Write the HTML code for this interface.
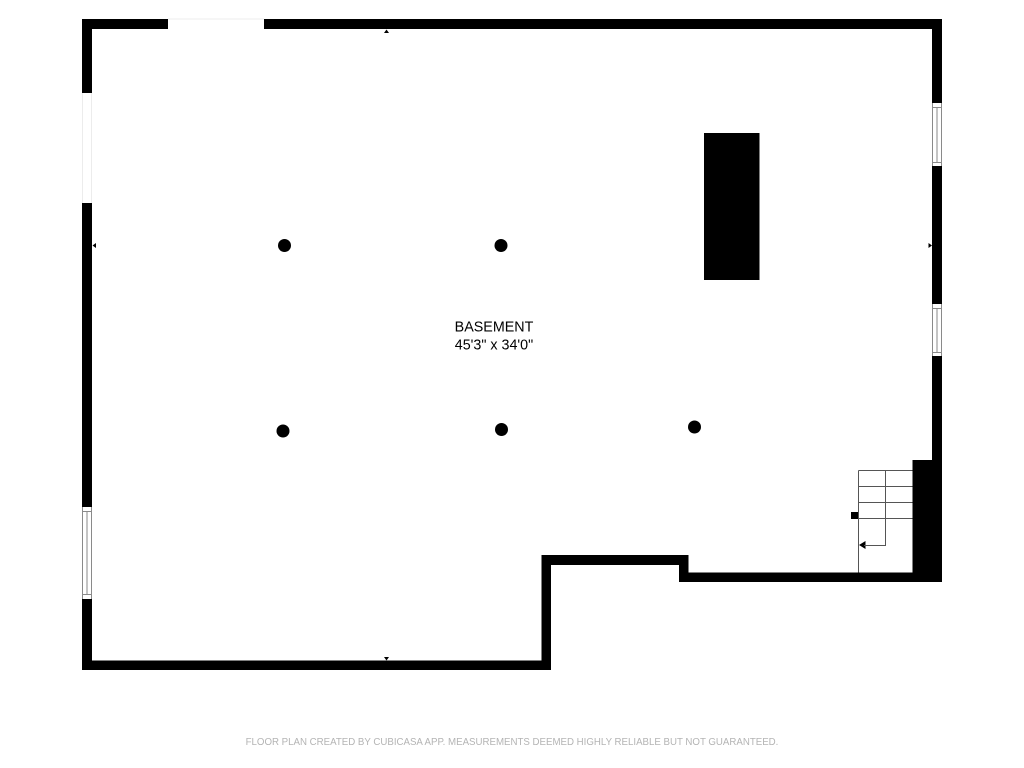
<!DOCTYPE html>
<html>
<head>
<meta charset="utf-8">
<title>Basement floor plan</title>
<style>
html,body{margin:0;padding:0;background:#fff;}
svg{display:block;}
text{font-family:"Liberation Sans",sans-serif;}
</style>
</head>
<body>
<svg width="1024" height="768" viewBox="0 0 1024 768" xmlns="http://www.w3.org/2000/svg">
<rect width="1024" height="768" fill="#fff"/>
<!-- walls -->
<g fill="#000">
<rect x="82" y="19" width="86" height="10"/>
<rect x="264" y="19" width="678" height="10"/>
<rect x="82" y="19" width="10" height="74"/>
<rect x="82" y="203" width="10" height="304"/>
<rect x="82" y="599" width="10" height="71"/>
<rect x="82" y="660.5" width="469" height="9.5"/>
<rect x="541.5" y="555" width="9.5" height="115"/>
<rect x="541.5" y="555" width="147" height="10"/>
<rect x="679" y="555" width="9.5" height="27"/>
<rect x="679" y="572.5" width="263" height="9.5"/>
<rect x="932" y="19" width="10" height="84"/>
<rect x="932" y="166" width="10" height="138"/>
<rect x="932" y="356" width="10" height="226"/>
<rect x="912.5" y="460" width="29.5" height="122"/>
<rect x="704" y="133" width="55.5" height="147"/>
<rect x="851" y="512" width="7.5" height="7"/>
<circle cx="284.5" cy="245.5" r="6.5"/>
<circle cx="501" cy="245.5" r="6.5"/>
<circle cx="283" cy="431" r="6.5"/>
<circle cx="501.5" cy="429.5" r="6.5"/>
<circle cx="694.5" cy="427" r="6.5"/>
<!-- wall markers -->
<path d="M386.5 29.5l-2.500 3.500h5z"/>
<path d="M386.500 660.500l-2.500-3.500h5z"/>
<path d="M92.500 245.500l3.500-2.500v5z"/>
<path d="M932 245.500l-3.500-2.500v5z"/>
<!-- stair arrowhead -->
<path d="M859 545l6.500-4v8z"/>
</g>
<!-- faint openings -->
<g fill="none" stroke="#ececec" stroke-width="1">
<path d="M168 19H264"/>
<path d="M82.500 93V203M91.500 93V203"/>
</g>
<!-- windows -->
<g fill="none" stroke="#8a8a8a" stroke-width="1">
<path d="M82.500 507V599M91.500 507V599M87 511.500V594.500M82.500 511.500H91.500M82.500 594.500H91.500"/>
<path d="M932.500 103V166M941.500 103V166M937 107.500V162.500M932.500 107.500H941.500M932.500 162.500H941.500"/>
<path d="M932.500 304V356M941.500 304V356M937 308.500V352.500M932.500 308.500H941.500M932.500 352.500H941.500"/>
</g>
<!-- stairs -->
<g fill="none" stroke="#555" stroke-width="1">
<path d="M858.500 470.500V572.500"/>
<path d="M858.500 470.500H912.500M858.500 486.500H912.500M858.500 502.500H912.500M858.500 518.500H912.500"/>
<path d="M885.500 470.500V545.500H864"/>
</g>
<!-- labels -->
<text x="494" y="331.500" font-size="14.300" text-anchor="middle" fill="#000">BASEMENT</text>
<text x="494" y="349.500" font-size="14.300" text-anchor="middle" fill="#000">45'3" x 34'0"</text>
<text x="512" y="745" font-size="9.700" text-anchor="middle" fill="#b4b4b4">FLOOR PLAN CREATED BY CUBICASA APP. MEASUREMENTS DEEMED HIGHLY RELIABLE BUT NOT GUARANTEED.</text>
</svg>
</body>
</html>
